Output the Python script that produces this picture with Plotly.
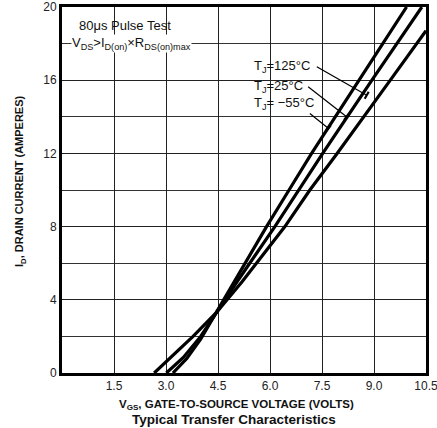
import math
import plotly.graph_objects as go

# ---- data ----
v_125 = [2.66, 3.2, 3.78, 4.45, 5.2, 6.0, 6.43, 7.15, 7.92, 9.45, 10.5]
i_125 = [0.0, 0.95, 2.0, 3.3, 5.0, 6.95, 8.0, 10.0, 11.95, 15.95, 18.7]

v_25 = [3.01, 3.5, 4.0, 4.45, 5.0, 6.14, 6.83, 7.52, 8.94, 10.38]
i_25 = [0.0, 0.85, 2.0, 3.3, 4.85, 8.0, 10.0, 12.0, 16.0, 20.0]

v_m55 = [3.2, 3.6, 4.0, 4.45, 5.0, 5.9, 6.55, 7.2, 8.57, 9.94]
i_m55 = [0.0, 0.8, 1.85, 3.3, 5.1, 8.0, 10.0, 12.0, 16.0, 20.0]

x_ticks = [1.5, 3.0, 4.5, 6.0, 7.5, 9.0, 10.5]
x_ticktext = ["1.5", "3.0", "4.5", "6.0", "7.5", "9.0", "10.5"]
y_ticks = [0, 4, 8, 12, 16, 20]

labels = ["T<sub>J</sub>=125°C", "T<sub>J</sub>=25°C", "T<sub>J</sub>= −55°C"]
label_y = [16.73, 15.67, 14.73]
leader_start = [(7.35, 16.73), (7.10, 15.64), (7.15, 14.18)]
leader_end = [(8.79, 15.18), (8.21, 14.0), (7.68, 13.37)]

FONT = "Liberation Sans, Arial, sans-serif"

W, H = 437, 428
ML, MR, MT, MB = 62, 11, 7, 55
XMAX, YMAX = 10.5, 20.0
PX_X = (W - ML - MR) / XMAX
PX_Y = (H - MT - MB) / YMAX

fig = go.Figure()
for v, i in [(v_125, i_125), (v_25, i_25), (v_m55, i_m55)]:
    fig.add_trace(go.Scatter(x=v, y=i, mode="lines",
                             line=dict(color="black", width=3.2, shape="linear"),
                             showlegend=False, hoverinfo="skip"))

for (x0, y0), (x1, y1) in zip(leader_start, leader_end):
    fig.add_shape(type="line", x0=x0, y0=y0, x1=x1, y1=y1, xref="x", yref="y",
                  line=dict(color="black", width=1.2))
    # small perpendicular bar at the leader end
    dx, dy = (x1 - x0) * PX_X, (y1 - y0) * PX_Y
    n = math.hypot(dx, dy)
    px, py = -dy / n * 4, dx / n * 4
    fig.add_shape(type="line", x0=x1 - px / PX_X, y0=y1 - py / PX_Y,
                  x1=x1 + px / PX_X, y1=y1 + py / PX_Y, xref="x", yref="y",
                  line=dict(color="black", width=2.2))

annotations = []
for txt, yy in zip(labels, label_y):
    annotations.append(dict(x=5.48, y=yy, xref="x", yref="y", text=txt, showarrow=False,
                            xanchor="left", yanchor="middle",
                            font=dict(family=FONT, size=13, color="#111")))

annotations += [
    dict(x=0.42, y=19.0, xref="x", yref="y", text="80μs Pulse Test", showarrow=False,
         xanchor="left", yanchor="middle", font=dict(family=FONT, size=13, color="#111")),
    dict(x=0.25, y=18.0, xref="x", yref="y",
         text="V<sub>DS</sub>>I<sub>D(on)</sub>×R<sub>DS(on)max</sub>", showarrow=False,
         xanchor="left", yanchor="middle", bgcolor="white", borderpad=0,
         font=dict(family=FONT, size=13, color="#111")),
    dict(x=0.48, y=-0.087, xref="paper", yref="paper",
         text="<b>V<sub>GS</sub>, GATE-TO-SOURCE VOLTAGE (VOLTS)</b>", showarrow=False,
         xanchor="center", yanchor="middle", font=dict(family=FONT, size=11.5, color="#111")),
    dict(x=0.473, y=-0.128, xref="paper", yref="paper",
         text="<b>Typical Transfer Characteristics</b>", showarrow=False,
         xanchor="center", yanchor="middle", font=dict(family=FONT, size=13.5, color="#111")),
    dict(x=-0.115, y=0.525, xref="paper", yref="paper",
         text="<b>I<sub>D</sub>, DRAIN CURRENT (AMPERES)</b>", showarrow=False, textangle=-90,
         xanchor="center", yanchor="middle", font=dict(family=FONT, size=11, color="#111")),
]

fig.update_layout(
    width=W, height=H,
    margin=dict(l=ML, r=MR, t=MT, b=MB, autoexpand=False),
    paper_bgcolor="white", plot_bgcolor="white",
    annotations=annotations,
    xaxis=dict(range=[0, XMAX + 0.0001], tickvals=x_ticks, ticktext=x_ticktext,
               showgrid=True, gridcolor="#222", gridwidth=1,
               showline=True, linecolor="black", linewidth=3, mirror=True,
               ticks="", zeroline=False, ticklabeloverflow="allow", automargin=False,
               tickfont=dict(family=FONT, size=12, color="#222")),
    yaxis=dict(range=[0, YMAX + 0.0001], tickvals=y_ticks,
               showgrid=True, gridcolor="#222", gridwidth=1,
               minor=dict(dtick=2, showgrid=True, gridcolor="#333", gridwidth=1),
               showline=True, linecolor="black", linewidth=3, mirror=True,
               ticks="", zeroline=False, ticklabeloverflow="allow", automargin=False,
               tickfont=dict(family=FONT, size=12, color="#222")),
)

fig.write_html("out.html")
